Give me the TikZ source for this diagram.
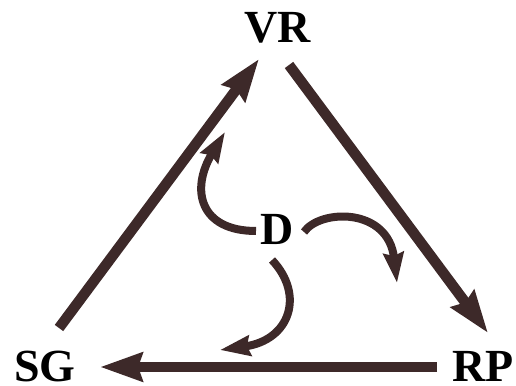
\documentclass[tikz,border=0pt]{standalone}
\usepackage{fontspec}
\setmainfont{Liberation Serif}
\usetikzlibrary{arrows.meta}
\definecolor{arrowbrown}{RGB}{61,41,41}
\tikzset{
  lbl/.style={font=\fontsize{46}{46}\selectfont\bfseries, inner sep=0pt, text=black, text depth=0pt},
  bigarrow/.style={draw=arrowbrown, line width=10.5pt, -{Stealth[length=42pt,width=28pt,inset=4pt]}},
  smallarrow/.style={draw=arrowbrown, line width=8pt, -{Stealth[length=30pt,width=20pt,inset=3pt]}}
}
\begin{document}
\begin{tikzpicture}[x=1pt,y=1pt]
\useasboundingbox (0,0) rectangle (516,385);
% labels
\node[lbl, anchor=base] (VR) at (278,342) {VR};
\node[lbl, anchor=base] (D) at (277,140) {D};
\node[lbl, anchor=base] (SG) at (45,4) {SG};
\node[lbl, anchor=base east] (RP) at (514,4) {RP};
% connector ends
\coordinate (sgA) at (59,57);
\coordinate (vrA) at (259,326);
\coordinate (vrB) at (289,320);
\coordinate (rpB) at (488,52);
\coordinate (rpC) at (437,18);
\coordinate (sgC) at (100,18);
\coordinate (d1s) at (256,154);
\coordinate (d1e) at (225,253);
\coordinate (d2s) at (304,153);
\coordinate (d2e) at (397,102);
\coordinate (d3s) at (272,125);
\coordinate (d3e) at (220,35);
% triangle arrows
\draw[bigarrow] (sgA) -- (vrA);
\draw[bigarrow] (vrB) -- (rpB);
\draw[bigarrow] (rpC) -- (sgC);
% curved arrows from D
\draw[smallarrow] (d1s) .. controls (200,154) and (190,195) .. (d1e);
\draw[smallarrow] (d2s) .. controls (320,176) and (388,178) .. (d2e);
\draw[smallarrow] (d3s) .. controls (305,90) and (290,45) .. (d3e);
\end{tikzpicture}
\end{document}
